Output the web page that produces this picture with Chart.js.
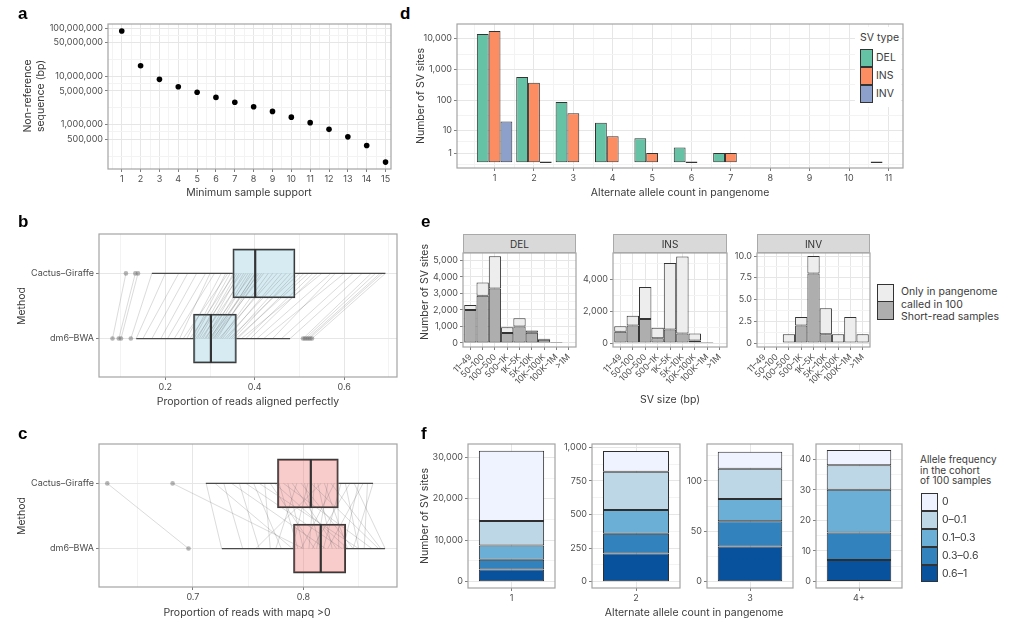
<!DOCTYPE html>
<html><head><meta charset="utf-8">
<script src="https://cdn.jsdelivr.net/npm/chart.js@4.4.0/dist/chart.umd.min.js"></script>
<style>
body{margin:0;width:1024px;height:626px;position:relative;background:#fff;overflow:hidden;font-family:Inter,sans-serif}
canvas{position:absolute}
.t{position:absolute;z-index:5;white-space:nowrap;font-family:Inter,sans-serif;font-size:10.5px;color:#3B3B3B;line-height:1.2;transform:translate(-50%,-50%)}
.r{transform:translate(-50%,-50%) rotate(-90deg);text-align:center}
.l{transform:translate(0,-50%)}
.lab{position:absolute;z-index:5;font-family:'Liberation Sans',Arial,sans-serif;font-weight:bold;font-size:17px;color:#000;line-height:1}
.strip{position:absolute;z-index:5;background:#D9D9D9;border:1px solid #A9A9A9;box-sizing:border-box;font-size:10px;color:#333;display:flex;align-items:center;justify-content:center;font-family:Inter,sans-serif}
.key{position:absolute;z-index:5;border:1px solid #333;box-sizing:border-box}
.bg{position:absolute;z-index:4;background:#fff}
</style></head><body>
<script>
// ---------------- DATA ----------------
// a
const supportLevels = [1,2,3,4,5,6,7,8,9,10,11,12,13,14,15];
const nonRefBp = [86700000,16600000,8670000,6100000,4670000,3670000,2900000,2350000,1880000,1430000,1100000,800000,560000,370000,168000];
const aYBreaks = [500000,1000000,5000000,10000000,50000000,100000000];
const aYMinor = [223600,707100,2236000,7071000,22360000,70710000];

// b, c  (index 0 = dm6-BWA, index 1 = Cactus-Giraffe)
const methods = ['dm6–BWA','Cactus–Giraffe'];
const bQ1=[0.263,0.351], bMed=[0.302,0.401], bQ3=[0.359,0.490], bLo=[0.135,0.170], bHi=[0.479,0.692];
const bOutDm6=[0.082,0.096,0.101,0.123,0.508,0.512,0.516,0.520,0.524,0.528];
const bOutCactus=[0.112,0.133,0.139];
const bPairDm6=[0.082,0.096,0.101,0.123,0.135,0.15,0.17,0.19,0.205,0.22,0.232,0.24,0.248,0.255,0.26,0.264,0.268,0.272,0.276,0.28,0.284,0.288,0.291,0.295,0.298,0.301,0.303,0.306,0.309,0.312,0.316,0.32,0.324,0.328,0.333,0.338,0.343,0.348,0.353,0.358,0.362,0.37,0.38,0.39,0.405,0.42,0.44,0.46,0.479,0.508,0.513,0.518,0.522,0.528];
const bPairCactus=[0.112,0.133,0.139,0.17,0.2,0.23,0.25,0.27,0.29,0.31,0.3,0.34,0.325,0.356,0.335,0.345,0.37,0.352,0.36,0.38,0.365,0.395,0.375,0.385,0.41,0.39,0.402,0.42,0.4,0.415,0.406,0.45,0.43,0.44,0.47,0.46,0.5,0.48,0.49,0.52,0.51,0.55,0.53,0.54,0.57,0.6,0.58,0.62,0.64,0.66,0.67,0.68,0.685,0.692];
const bXBreaks=[0.2,0.4,0.6], bXMinor=[0.1,0.3,0.5,0.7];

const cQ1=[0.791,0.7765], cMed=[0.8157,0.8067], cQ3=[0.8383,0.8316], cLo=[0.7262,0.7117], cHi=[0.8738,0.863];
const cOutDm6=[0.696], cOutCactus=[0.6225,0.6816];
const cPairCactus=[0.6225,0.6816,0.712,0.72,0.728,0.735,0.742,0.748,0.755,0.76,0.765,0.77,0.774,0.778,0.782,0.786,0.79,0.794,0.798,0.801,0.804,0.807,0.81,0.813,0.816,0.819,0.822,0.825,0.828,0.831,0.834,0.838,0.842,0.846,0.85,0.854,0.858,0.863];
const cPairDm6=[0.696,0.80,0.726,0.79,0.745,0.82,0.76,0.835,0.78,0.85,0.77,0.81,0.84,0.795,0.862,0.80,0.83,0.775,0.845,0.815,0.79,0.868,0.805,0.826,0.757,0.84,0.812,0.87,0.798,0.832,0.818,0.85,0.808,0.874,0.836,0.822,0.855,0.845];
const cXBreaks=[0.7,0.8], cXMinor=[0.65,0.75,0.85];

// d
const alleleCounts=[1,2,3,4,5,6,7,8,9,10,11];
const svTypes=['DEL','INS','INV'];
const dDEL=[14200,573,88,18,5,2,1,null,null,null,0];
const dINS=[17750,375,38,6,1,0,1,null,null,null,null];
const dINV=[20,0,null,null,null,null,null,null,null,null,null];
const dYBreaks=[1,10,100,1000,10000];

// e
const sizeBins=['11–49','50–100','100–500','500–1K','1K–5K','5K–10K','10K–100K','100K–1M','>1M'];
const eDELcalled=[2000,2850,3300,600,1000,620,200,20,null];
const eDELtotal =[2300,3650,5250,950,1500,760,250,40,null];
const eINScalled=[700,1100,1500,300,850,600,150,5,null];
const eINStotal =[1050,1700,3500,960,5000,5400,600,10,null];
const eINVcalled=[null,null,0,2,8,1,0,0,0];
const eINVtotal =[null,null,1,3,10,4,1,3,1];
const eDELbreaks=[0,1000,2000,3000,4000,5000], eINSbreaks=[0,2000,4000], eINVbreaks=[0,2.5,5,7.5,10];

// f
const countGroups=['1','2','3','4+'];
const afBins=['0','0–0.1','0.1–0.3','0.3–0.6','0.6–1'];
const af0   =[16900,154,17,5];
const af0_01=[5940,284,30,8];
const af01_03=[3440,178,22,14];
const af03_06=[2330,146,25,9];
const af06_1=[2950,210,35,7];
const fBreaks=[[0,10000,20000,30000],[0,250,500,750,1000],[0,50,100],[0,10,20,30,40]];

// ---------------- HELPERS ----------------
Chart.defaults.font.family='Inter, sans-serif';
Chart.defaults.font.size=9;
Chart.defaults.color='#4D4D4D';
const MAJ='#E6E6E6', MIN='#F3F3F3', TICK='#7F7F7F';
const framePlugin={id:'frame',afterDraw(ch){const a=ch.chartArea,c=ch.ctx;c.save();c.strokeStyle='#A4A4A4';c.lineWidth=1.2;c.strokeRect(a.left,a.top,a.right-a.left,a.bottom-a.top);c.restore();}};
function minorsOf(major,min,max){const out=[];for(let i=1;i<major.length;i++)out.push((major[i-1]+major[i])/2);
  const st=major[1]-major[0];out.push(major[0]-st/2);out.push(major[major.length-1]+(major[major.length-1]-major[major.length-2])/2);
  return out.filter(v=>v>min&&v<max);}
function axis(type,min,max,major,minor,fmt,o){
  o=o||{};
  const maj=new Set(major);
  const all=[...major,...minor].filter(v=>v>=min&&v<=max).sort((a,b)=>a-b);
  const a={type,min,max,bounds:'data',offset:false,beginAtZero:false,
    afterBuildTicks:s=>{s.ticks=all.map(v=>({value:v}));},
    ticks:Object.assign({autoSkip:false,padding:2,color:'#4D4D4D',font:{size:9},maxRotation:0,callback:v=>maj.has(v)?fmt(v):''},o.ticks||{}),
    grid:{offset:false,color:c=>(c.tick&&maj.has(c.tick.value))?MAJ:MIN,lineWidth:1,tickLength:3,
      tickColor:c=>(c.tick&&maj.has(c.tick.value))?TICK:'rgba(0,0,0,0)',tickWidth:1},
    border:{display:false}};
  if(o.stacked)a.stacked=true;
  return a;
}
function mk(plot,m,cfg){
  const cv=document.createElement('canvas');
  const w=plot.x1-plot.x0+m.l+m.r,h=plot.y1-plot.y0+m.t+m.b;
  cv.width=w;cv.height=h;cv.style.left=(plot.x0-m.l)+'px';cv.style.top=(plot.y0-m.t)+'px';cv.style.width=w+'px';cv.style.height=h+'px';
  document.body.appendChild(cv);
  const o=cfg.options;
  o.responsive=false;o.animation=false;o.devicePixelRatio=1;o.maintainAspectRatio=false;
  o.layout={padding:{left:0,top:m.t,right:m.r,bottom:0}};
  o.plugins={legend:{display:false},tooltip:{enabled:false}};
  o.scales.x.afterFit=s=>{s.height=m.b;};
  o.scales.y.afterFit=s=>{s.width=m.l;};
  cfg.plugins=[framePlugin];
  return new Chart(cv,cfg);
}
function T(txt,x,y,cls,style){const d=document.createElement('div');d.className='t '+(cls||'');d.innerHTML=txt;d.style.left=x+'px';d.style.top=y+'px';if(style)d.setAttribute('style',d.getAttribute('style')+';'+style);document.body.appendChild(d);return d;}
function L(txt,x,y){const d=document.createElement('div');d.className='lab';d.textContent=txt;d.style.left=x+'px';d.style.top=y+'px';document.body.appendChild(d);}
function box(x,y,w,h,col,cls){const d=document.createElement('div');d.className=cls||'key';Object.assign(d.style,{left:x+'px',top:y+'px',width:w+'px',height:h+'px',background:col});document.body.appendChild(d);return d;}
const fmtN=v=>Math.round(v).toLocaleString('en-US');

// ---------------- PANEL a ----------------
mk({x0:108,y0:24,x1:391,y1:169},{l:90,t:10,r:8,b:26},{type:'scatter',
  data:{datasets:[{data:supportLevels.map((s,i)=>({x:s,y:nonRefBp[i]})),pointRadius:2.8,pointBackgroundColor:'#000',pointBorderWidth:0}]},
  options:{scales:{
    x:axis('linear',0.27,15.29,supportLevels,supportLevels.map(v=>v-0.5),v=>String(v)),
    y:axis('logarithmic',121000,121000000,aYBreaks,aYMinor,fmtN)}}});

// ---------------- PANELS b, c ----------------
function boxSets(q1,med,q3,lo,hi,outs,pLo,pHi,fill){
  const s=[];
  s.push({type:'bar',indexAxis:'y',data:methods.map((m,i)=>({y:i+1,x:[q1[i],q3[i]]})),backgroundColor:fill,borderColor:'#3A3A3A',borderWidth:1.4,borderSkipped:false,barThickness:49,order:10});
  pLo.forEach((v,i)=>s.push({type:'scatter',showLine:true,data:[{x:v,y:1},{x:pHi[i],y:2}],borderColor:'rgba(90,90,90,0.28)',borderWidth:0.8,pointRadius:0,order:5}));
  methods.forEach((m,i)=>{
    s.push({type:'scatter',showLine:true,data:[{x:lo[i],y:i+1},{x:q1[i],y:i+1}],borderColor:'#4A4A4A',borderWidth:1.3,pointRadius:0,order:2});
    s.push({type:'scatter',showLine:true,data:[{x:q3[i],y:i+1},{x:hi[i],y:i+1}],borderColor:'#4A4A4A',borderWidth:1.3,pointRadius:0,order:2});
    s.push({type:'scatter',showLine:true,data:[{x:med[i],y:i+1-0.375},{x:med[i],y:i+1+0.375}],borderColor:'#333',borderWidth:2.2,pointRadius:0,order:1});
    s.push({type:'scatter',data:outs[i].map(v=>({x:v,y:i+1})),pointRadius:2.3,backgroundColor:'rgba(110,110,110,0.5)',pointBorderWidth:0,order:0});
  });
  return s;
}
mk({x0:99,y0:234,x1:397,y1:377},{l:99,t:10,r:8,b:20},{type:'scatter',
  data:{datasets:boxSets(bQ1,bMed,bQ3,bLo,bHi,[bOutDm6,bOutCactus],bPairDm6,bPairCactus,'rgba(173,216,230,0.5)')},
  options:{scales:{x:axis('linear',0.0518,0.718,bXBreaks,bXMinor,v=>String(v)),y:axis('linear',0.41,2.605,[1,2],[],v=>methods[v-1])}}});
mk({x0:99,y0:444,x1:397,y1:587},{l:99,t:10,r:8,b:20},{type:'scatter',
  data:{datasets:boxSets(cQ1,cMed,cQ3,cLo,cHi,[cOutDm6,cOutCactus],cPairDm6,cPairCactus,'rgba(240,128,128,0.4)')},
  options:{scales:{x:axis('linear',0.615,0.8847,cXBreaks,cXMinor,v=>String(v)),y:axis('linear',0.41,2.605,[1,2],[],v=>methods[v-1])}}});

// ---------------- PANEL d ----------------
const tr=v=>v==null?null:Math.log10(v+1);
const dYT=dYBreaks.map(tr);
const dLab=new Map(dYBreaks.map(b=>[tr(b),b.toLocaleString('en-US')]));
const dCols=['#66C2A5','#FC8D62','#8DA0CB'];
const dSets=[dDEL,dINS,dINV].map((arr,k)=>({type:'bar',label:svTypes[k],
  data:alleleCounts.map((c,i)=>({x:c,y:tr(arr[i])})).filter(p=>p.y!=null),
  backgroundColor:dCols[k],borderColor:'#333',borderWidth:1,borderSkipped:false,inflateAmount:0,minBarLength:1.5,categoryPercentage:0.9,barPercentage:1}));
const dX=axis('linear',0.046,11.37,alleleCounts,[],v=>String(v));
const dX2={type:'linear',position:'bottom',offset:false,min:0.046,max:11.37,afterBuildTicks:s=>{s.ticks=alleleCounts.map(v=>({value:v-0.5})).concat([{value:11.5}]).filter(t=>t.value>0.046&&t.value<11.37);},
  ticks:{display:false},grid:{offset:false,color:MIN,drawTicks:false,lineWidth:1},border:{display:false},afterFit:s=>{s.height=0;}};
mk({x0:457,y0:24,x1:903,y1:168},{l:42,t:10,r:8,b:20},{type:'bar',
  data:{datasets:dSets},
  options:{scales:{x:dX,x2:dX2,y:axis('linear',-0.184,4.476,dYT,minorsOf(dYT,-0.184,4.476),v=>dLab.get(v))}}});

// ---------------- PANEL e ----------------
function eFacet(plot,called,total,min,max,breaks,fmt){
  const light=total.map((t,i)=>t==null?null:t-(called[i]||0));
  const set=(arr,col)=>({data:sizeBins.map((b,i)=>({x:i,y:arr[i]})).filter(p=>p.y!=null&&p.y>0),backgroundColor:col,borderColor:'#333',borderWidth:1,borderSkipped:false,inflateAmount:0,barPercentage:1,categoryPercentage:1});
  const idx=sizeBins.map((b,i)=>i);
  const xa=axis('linear',-0.6,8.6,idx,[],v=>sizeBins[v],{ticks:{minRotation:45,maxRotation:45,font:{size:8.5}}});
  xa.stacked=true;
  mk(plot,{l:36,t:10,r:6,b:38},{type:'bar',data:{datasets:[set(called,'#AEAEAE'),set(light,'#EDEDED')]},
    options:{scales:{x:xa,y:axis('linear',min,max,breaks,minorsOf(breaks,min,max),fmt,{stacked:true})}}});
}
eFacet({x0:463,y0:253,x1:576,y1:347},eDELcalled,eDELtotal,-242,5441,eDELbreaks,fmtN);
eFacet({x0:613,y0:253,x1:727,y1:347},eINScalled,eINStotal,-250,5625,eINSbreaks,fmtN);
eFacet({x0:757,y0:253,x1:870,y1:347},eINVcalled,eINVtotal,-0.46,10.35,eINVbreaks,v=>v===0?'0':v.toFixed(1));

// ---------------- PANEL f ----------------
const afSeries=[af06_1,af03_06,af01_03,af0_01,af0];
const afCols=['#08519C','#3182BD','#6BAED6','#BDD7E7','#EFF3FF'];
const fPlots=[{x0:468,x1:555},{x0:592,x1:680},{x0:707,x1:793},{x0:816,x1:902}];
const fRanges=[[-1516,33200],[-47,1024.5],[-6.2,136.6],[-2.16,45.0]];
countGroups.forEach((g,k)=>{
  const p=Object.assign({y0:444,y1:588},fPlots[k]);
  const [mn,mx]=fRanges[k];
  mk(p,{l:40,t:10,r:6,b:22},{type:'bar',
    data:{labels:[g],datasets:afSeries.map((s,j)=>({data:[s[k]],backgroundColor:afCols[j],borderColor:'#2E2E2E',borderWidth:1,borderSkipped:false,inflateAmount:0,barPercentage:1,categoryPercentage:0.75}))},
    options:{scales:{
      x:{type:'category',offset:true,stacked:true,ticks:{padding:2,font:{size:9},color:'#4D4D4D'},grid:{offset:false,color:MAJ,tickLength:3,tickColor:TICK},border:{display:false}},
      y:axis('linear',mn,mx,fBreaks[k],minorsOf(fBreaks[k],mn,mx),fmtN,{stacked:true})}}});
});

// ---------------- TEXT / LEGENDS ----------------
L('a',18,5);L('b',18,213);L('c',18,425);L('d',400,5);L('e',421,213);L('f',421,425);
T('Non-reference<br>sequence (bp)',34,96,'r','line-height:13px');
T('Minimum sample support',249,193);
T('Method',22,306,'r');
T('Proportion of reads aligned perfectly',248,402);
T('Method',22,516,'r');
T('Proportion of reads with mapq &gt;0',247,613);
T('Number of SV sites',421,96,'r');
T('Alternate allele count in pangenome',680,193);
T('Number of SV sites',425,292,'r');
T('SV size (bp)',670,400);
T('Number of SV sites',425,516,'r');
T('Alternate allele count in pangenome',694,613);
// strips
[['DEL',463,576],['INS',613,727],['INV',757,870]].forEach(([n,a,b])=>{const d=box(a,234,b-a,19,'#D9D9D9','strip');d.textContent=n;});
// legend d
box(855,27,46,80,'#fff','bg');
T('SV type',860,38,'l');
svTypes.forEach((n,i)=>{box(860,49+i*18,13,18,dCols[i]);T(n,876,58+i*18,'l');});
// legend e
box(877,284,17,18,'#EDEDED');box(877,301,17,19,'#AEAEAE');
T('Only in pangenome',901,292,'l');T('called in 100',901,304.5,'l');T('Short-read samples',901,317,'l');
// legend f
T('Allele frequency<br>in the cohort<br>of 100 samples',920,470,'l','line-height:10.6px;font-size:10px');
afBins.forEach((n,i)=>{box(921,493+i*17.9,16.5,17.9,afCols[4-i]);T(n,942,502+i*17.9,'l');});
</script>
</body></html>
